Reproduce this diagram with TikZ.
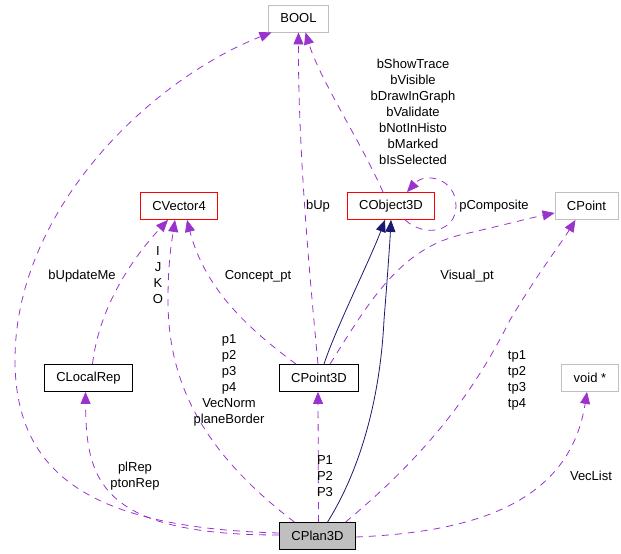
\documentclass[tikz,border=0pt]{standalone}
\usepackage{xcolor}
\usepackage{fontspec}
\setmainfont{Liberation Sans}
\usepackage{tikz}
\usetikzlibrary{arrows.meta}
\definecolor{depcol}{HTML}{9A32CD}
\definecolor{inhcol}{HTML}{191970}
\definecolor{boxgray}{HTML}{BFBFBF}

\begin{document}
\begin{tikzpicture}[x=1pt,y=-1pt,font=\fontsize{13}{16}\selectfont,
  cls/.style={draw,line width=0.8pt,minimum height=27pt,inner xsep=12pt,inner ysep=0pt},
  redcls/.style={cls,draw=red},
  greycls/.style={cls,draw=boxgray},
  dep/.style={draw=depcol,line width=0.8pt,dash pattern=on 7pt off 6pt,-{Triangle[length=12pt,width=10pt]}},
  inh/.style={draw=inhcol,line width=0.8pt,-{Triangle[length=12pt,width=10pt]}},
  lbl/.style={align=center,inner sep=0pt}]
\useasboundingbox (0,0) rectangle (621,554);
\node[greycls] (bool) at (298.5,18.5) {BOOL};
\node[redcls] (vec) at (179,206) {CVector4};
\node[redcls] (obj) at (391,206) {CObject3D};
\node[greycls] (cpoint) at (586.5,206) {CPoint};
\node[cls] (localrep) at (88.5,378) {CLocalRep};
\node[cls] (point3d) at (319,378) {CPoint3D};
\node[greycls] (voidp) at (590,378) {void *};
\node[cls,fill=boxgray] (plan) at (317.5,536) {CPlan3D};

\draw[dep] ([yshift=3]plan.west) .. controls (100,528) and (15,480) .. (15,360) .. controls (15,210) and (150,80) .. ([xshift=-27]bool.south);
\draw[dep] ([xshift=-1]point3d.north) .. controls (310,280) and (298,150) .. (bool.south);
\draw[dep] ([xshift=-8]obj.north) .. controls (360,140) and (320,80) .. ([xshift=7]bool.south);
\draw[dep] ([xshift=14]obj.south) .. controls (425,238) and (456,232) .. (456,206) .. controls (456,178) and (425,172) .. ([xshift=16]obj.north);
\draw[dep] ([xshift=4]localrep.north) .. controls (100,300) and (140,250) .. ([xshift=-11]vec.south);
\draw[dep] ([xshift=-23]plan.north) .. controls (200,450) and (168,380) .. (168,300) .. controls (168,260) and (172,240) .. ([xshift=-4]vec.south);
\draw[dep] ([xshift=-23]point3d.north) .. controls (250,330) and (205,290) .. ([xshift=8]vec.south);
\draw[inh] ([xshift=5]point3d.north) .. controls (335,330) and (370,260) .. ([xshift=-6]obj.south);
\draw[inh] ([xshift=10]plan.north) .. controls (360,470) and (380,400) .. (384,320) .. controls (388,270) and (390,240) .. (obj.south);
\draw[dep] ([xshift=11]point3d.north) .. controls (370,300) and (400,250) .. (460,235) .. controls (500,226) and (530,218) .. ([yshift=-7]cpoint.west);
\draw[dep] ([xshift=28]plan.north) .. controls (420,460) and (470,400) .. (510,320) .. controls (540,270) and (560,245) .. ([xshift=-11]cpoint.south);
\draw[dep] ([yshift=1]plan.west) .. controls (100,535) and (86,480) .. ([xshift=-3]localrep.south);
\draw[dep] ([xshift=1]plan.north) -- ([xshift=-1]point3d.south);
\draw[dep] ([yshift=-1]plan.east) .. controls (480,532) and (570,500) .. ([xshift=-3]voidp.south);

\node[lbl] (lbool) at (413,112) {bShowTrace\\bVisible\\bDrawInGraph\\bValidate\\bNotInHisto\\bMarked\\bIsSelected};
\node[lbl] (lup) at (318,206) {bUp};
\node[lbl] (lcomp) at (494,206) {pComposite};
\node[lbl] (lijk) at (158,275) {I\\J\\K\\O};
\node[lbl] (lconcept) at (258,276) {Concept\_pt};
\node[lbl] (lvisual) at (467,276) {Visual\_pt};
\node[lbl] (lupdate) at (82,276) {bUpdateMe};
\node[lbl] (lp) at (229,380) {p1\\p2\\p3\\p4\\VecNorm\\planeBorder};
\node[lbl] (ltp) at (517,380) {tp1\\tp2\\tp3\\tp4};
\node[lbl] (lrep) at (135,476) {plRep\\ptonRep};
\node[lbl] (lP) at (325,476) {P1\\P2\\P3};
\node[lbl] (lvec) at (591,476) {VecList};
\end{tikzpicture}
\end{document}
